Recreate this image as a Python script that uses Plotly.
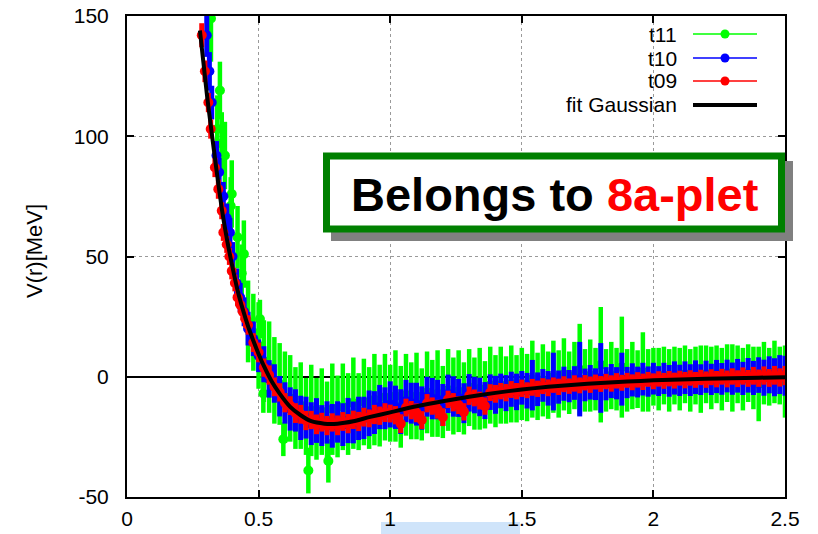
import plotly.graph_objects as go

# ---------------- data ----------------
r_grid = [0.46,0.48,0.50,0.52,0.54,0.56,0.58,0.60,0.62,0.64,
          0.66,0.68,0.70,0.72,0.74,0.76,0.78,0.80,0.82,0.84,
          0.86,0.88,0.90,0.92,0.94,0.96,0.98,1.00,1.02,1.04,
          1.06,1.08,1.10,1.12,1.14,1.16,1.18,1.20,1.22,1.24,
          1.26,1.28,1.30,1.32,1.34,1.36,1.38,1.40,1.42,1.44,
          1.46,1.48,1.50,1.52,1.54,1.56,1.58,1.60,1.62,1.64,
          1.66,1.68,1.70,1.72,1.74,1.76,1.78,1.80,1.82,1.84,
          1.86,1.88,1.90,1.92,1.94,1.96,1.98,2.00,2.02,2.04,
          2.06,2.08,2.10,2.12,2.14,2.16,2.18,2.20,2.22,2.24,
          2.26,2.28,2.30,2.32,2.34,2.36,2.38,2.40,2.42,2.44,
          2.46,2.48,2.50]

# t09 (red)
t09_r_near = [0.284,0.296,0.309,0.318,0.334,0.347,0.360,0.366,0.379,0.389,0.398,0.410,0.420,0.430,0.440,0.450]
t09_v_near = [142,127,114,103,87,78,69,60,55,50,44,39,33,30,27,24]
t09_e_near = [5,4.5,4,4,4,4,3.5,3.5,3.5,3.5,3.5,3.5,3.5,3.5,3.5,3.5]
t09_v = [21.5,14.2,10.1,3.8,0.7,-4.2,-6.5,-10.8,-12.0,-15.1,
         -15.6,-18.2,-18.0,-19.8,-18.9,-20.3,-19.0,-20.2,-18.6,-19.5,
         -17.9,-18.6,-16.8,-17.3,-15.7,-16.2,-14.9,-15.3,-16.0,-19.5,
         -12.8,-13.9,-15.0,-18.0,-11.0,-12.2,-13.5,-16.8,-9.4,-10.6,
         -11.8,-14.6,-7.9,-8.8,-9.9,-12.2,-6.6,-7.1,-6.0,-6.6,
         -5.3,-6.0,-4.8,-5.6,-4.4,-5.0,-3.9,-4.6,-3.5,-4.2,
         -3.1,-3.9,-2.8,-3.6,-2.5,-3.3,-2.2,-3.0,-2.0,-2.8,
         -1.7,-2.5,-1.5,-2.3,-1.3,-2.1,-1.1,-1.9,-0.9,-1.7,
         -0.8,-1.6,-0.6,-1.4,-0.5,-1.3,-0.3,-1.2,-0.2,-1.0,
         0.0,-0.9,0.1,-0.8,0.3,-0.7,0.4,-0.6,0.5,-0.5,
         0.6,-0.3,0.5]
t09_e = [4.0,3.9,4.1,3.8,4.0,3.9,3.8,4.0,3.9,4.1,
         3.9,4.0,3.8,4.1,3.9,4.0,3.8,4.1,3.9,4.0,
         3.8,4.0,3.9,3.7,4.0,3.8,3.9,3.7,3.8,3.9,
         3.7,3.8,3.9,3.7,3.8,3.6,3.9,3.7,3.6,3.8,
         3.7,3.6,3.8,3.5,3.7,3.6,3.5,3.7,3.4,3.6,
         3.5,3.4,3.6,3.3,3.5,3.4,3.3,3.5,3.2,3.4,
         3.3,3.2,3.4,3.3,3.2,3.4,3.1,3.3,3.2,3.4,
         3.2,3.3,3.1,3.3,3.2,3.4,3.1,3.3,3.2,3.3,
         3.2,3.3,3.1,3.4,3.2,3.3,3.2,3.4,3.3,3.4,
         3.3,3.5,3.4,3.5,3.6,3.5,3.7,3.6,3.8,3.7,
         3.9,3.8,4.0]

# t10 (blue)
t10_r_near = [0.303,0.313,0.322,0.340,0.350,0.366,0.379,0.391,0.401,0.416,0.430,0.445]
t10_v_near = [142,127,114,92,85,75,66,60,50,39,33,27]
t10_e_near = [9,8,7,6,6,6,6,6,6,6,6,6]
t10_v = [20.0,15.8,8.7,5.2,-0.9,-2.8,-8.1,-10.9,-13.4,-14.0,
         -17.1,-17.0,-19.5,-18.2,-20.3,-19.0,-20.4,-18.8,-19.9,-18.2,
         -19.0,-17.3,-17.1,-15.2,-14.9,-12.6,-13.1,-11.5,-12.7,-14.5,
         -10.1,-11.0,-11.4,-13.0,-8.3,-9.1,-9.5,-11.7,-7.1,-8.2,
         -8.8,-11.0,-6.7,-7.6,-8.4,-9.9,-6.4,-7.5,-5.9,-6.8,
         -5.2,-6.3,-4.6,-5.8,-3.5,-5.2,-3.6,-4.8,-2.0,-4.3,
         -2.9,-3.9,-2.6,-1.0,-3.4,-2.3,-3.1,-0.5,-2.9,-1.8,
         -2.7,-1.0,-2.4,-1.3,-2.2,-1.0,-2.0,-0.8,-1.8,-0.7,
         -1.7,-0.5,-1.5,-0.4,-1.4,-0.2,-1.2,0.0,-1.1,0.1,
         -0.9,0.3,-0.8,0.4,-0.7,0.6,-0.5,0.7,-0.4,0.8,
         -0.2,0.9,0.4]
t10_e = [7.0,7.2,6.8,7.5,7.8,8.0,8.4,8.6,9.0,8.8,
         9.2,8.7,8.9,9.3,8.5,8.8,9.1,8.6,8.9,9.4,
         8.7,9.0,8.8,9.5,8.9,9.2,8.7,9.6,9.0,9.3,
         8.8,8.5,8.9,9.0,8.3,8.6,8.2,8.7,8.0,8.4,
         7.9,8.3,7.8,7.6,8.0,7.7,7.4,7.9,7.2,7.5,
         7.3,7.6,7.0,7.4,10.5,7.0,6.8,7.2,12.0,6.9,
         7.1,6.7,7.0,15.5,6.8,7.2,6.6,14.5,6.9,7.1,
         6.7,11.0,6.5,6.9,6.4,6.8,6.3,6.6,6.2,6.5,
         6.6,6.9,6.5,6.8,6.6,7.0,6.4,6.7,6.5,6.9,
         6.6,6.8,6.7,7.0,6.9,7.2,7.1,7.4,7.5,7.7,
         7.9,8.1,8.3]

# t11 (green)
t11_r_near = [0.319,0.343,0.353,0.360,0.372,0.394,0.398,0.420,0.436,0.444]
t11_v_near = [149,103,119,97,92,71,76,58,43,51]
t11_e_near = [18,14,12,13,14,12,14,13,12,14]
t11_r_extra = [0.505,0.518,0.594,0.689,0.765]
t11_v_extra = [24,-7,-26,-39,-35]
t11_e_extra = [8,8,7,9.5,9]
t11_v = [23.0,18.5,13.0,6.5,4.0,-1.5,-3.0,-8.5,-9.0,-13.0,
         -12.0,-16.5,-14.0,-17.5,-14.5,-18.0,-13.5,-16.5,-12.5,-15.5,
         -11.0,-14.5,-10.5,-13.0,-9.5,-12.0,-8.5,-11.0,-8.0,-12.5,
         -7.5,-10.0,-8.0,-11.5,-6.5,-9.0,-7.0,-10.5,-5.5,-8.0,
         -6.0,-9.0,-4.5,-7.0,-5.0,-7.5,-3.5,-6.0,-3.5,-5.5,
         -3.0,-5.0,-3.0,-4.5,-1.0,-4.0,-1.5,-3.5,0.0,-3.0,
         1.0,-2.5,0.5,3.0,-1.5,0.5,-1.0,5.0,-1.5,0.5,
         -1.0,4.0,-1.5,0.5,-1.0,2.0,-1.5,0.0,-1.0,0.5,
         -1.5,0.5,-1.0,1.0,-1.5,0.5,-1.0,1.0,-0.5,1.0,
         -1.0,1.5,-0.5,1.0,-1.0,1.5,-0.5,-3.0,1.5,0.0,
         2.0,0.5,-2.0]
t11_e = [17,16,18,17,19,18,17,19,18,17,
         18,16,19,17,18,16,19,17,18,17,
         19,16,18,17,19,17,18,16,19,17,
         17,16,18,15,17,16,18,15,17,16,
         17,15,16,15,17,14,16,15,16,14,
         16,14,15,14,16,14,15,14,15,14,
         15,13,14,19,13,15,13,24,13,14,
         13,21,13,14,12,16.5,13,12,13,12,
         13,12,13,12,13,12,14,12,13,12,
         13,12,14,12,13,12,13,15.5,13,12,
         13,12,15]

# fit Gaussian (black)
fit_r = [0.277,0.29,0.305,0.32,0.34,0.36,0.38,0.40,0.42,0.44,0.46,0.48,0.50,0.52,0.55,0.58,
         0.62,0.66,0.70,0.75,0.80,0.86,0.92,1.00,1.10,1.20,1.30,1.40,1.50,1.60,1.70,1.80,
         1.90,2.00,2.20,2.40,2.50]
fit_v = [144,131,116,103,86,70,57,46,36,28,21,15,9.5,4.5,-2,-7,
         -12.5,-16,-18.5,-19.5,-19.5,-18.5,-16.8,-14.8,-12.3,-10.2,-8.3,-6.7,-5.3,-4.2,-3.3,-2.6,
         -2.0,-1.5,-0.8,-0.4,-0.2]

x_ticks = [0, 0.5, 1, 1.5, 2, 2.5]
x_ticktext = ["0", "0.5", "1", "1.5", "2", "2.5"]
y_ticks = [-50, 0, 50, 100, 150]
y_ticktext = ["-50", "0", "50", "100", "150"]

series_names = ["t11", "t10", "t09"]
series_colors = ["#00ff00", "#0000ff", "#ff0000"]

for lst in (t09_v, t09_e, t10_v, t10_e, t11_v, t11_e):
    assert len(lst) == len(r_grid), len(lst)

# ---------------- figure ----------------
FONT = "Liberation Sans, Arial, Helvetica, sans-serif"
W, H = 818, 534
L, R, T, B = 127, 33, 16, 37
PW, PH = W - L - R, H - T - B


def px(x):
    return (x - L) / PW


def py(y):
    return (H - B - y) / PH


fig = go.Figure()

series = [
    (t11_r_near + r_grid + t11_r_extra, t11_v_near + t11_v + t11_v_extra, t11_e_near + t11_e + t11_e_extra, 4.5),
    (t10_r_near + r_grid, t10_v_near + t10_v, t10_e_near + t10_e, 5),
    (t09_r_near + r_grid, t09_v_near + t09_v, t09_e_near + t09_e, 5),
]
for (xs, ys, es, th), name, col in zip(series, series_names, series_colors):
    fig.add_trace(go.Scatter(
        x=xs, y=ys, mode="markers", name=name, showlegend=False,
        marker=dict(color=col, size=10, line=dict(width=0)),
        error_y=dict(type="data", array=es, visible=True, color=col, thickness=th, width=0),
    ))

fig.add_trace(go.Scatter(
    x=fit_r, y=fit_v, mode="lines", name="fit Gaussian", showlegend=False,
    line=dict(color="black", width=4, shape="spline", smoothing=0.6),
))

axis_common = dict(
    showline=True, linecolor="black", linewidth=2, mirror="ticks",
    ticks="inside", ticklen=7, tickwidth=1.5, tickcolor="black",
    showgrid=True, gridcolor="#9a9a9a", gridwidth=1, griddash="dot",
    tickfont=dict(family=FONT, size=21, color="black"),
    automargin=False,
)

fig.update_layout(
    width=W, height=H, autosize=False,
    margin=dict(l=L, r=R, t=T, b=B, autoexpand=False),
    paper_bgcolor="white", plot_bgcolor="white",
    showlegend=False,
    xaxis=dict(range=[0, 2.5], tickvals=x_ticks, ticktext=x_ticktext, zeroline=False,
               ticklabelstandoff=2, **axis_common),
    yaxis=dict(range=[-50, 150], tickvals=y_ticks, ticktext=y_ticktext,
               zeroline=True, zerolinecolor="black", zerolinewidth=2,
               ticklabelstandoff=12, **axis_common),
)

shapes = []
annotations = []

# light blue strip under the x labels
shapes.append(dict(type="rect", xref="paper", yref="paper", layer="below",
                   x0=px(381), x1=px(520), y0=py(534), y1=py(522),
                   fillcolor="#cfe4fa", line=dict(width=0)))

# y-axis title
annotations.append(dict(text="V(r)[MeV]", xref="paper", yref="paper", x=px(34), y=py(251),
                        textangle=-90, showarrow=False, xanchor="center", yanchor="middle",
                        font=dict(family=FONT, size=22, color="black")))

# manual legend (gnuplot style: text then sample)
rows = [34, 58, 81, 105]
legend_items = [("t11", "#00ff00", True), ("t10", "#0000ff", True), ("t09", "#ff0000", True),
                ("fit Gaussian", "black", False)]
for yrow, (label, col, dot) in zip(rows, legend_items):
    annotations.append(dict(text=label, xref="paper", yref="paper", x=px(679), y=py(yrow),
                            xanchor="right", yanchor="middle", showarrow=False,
                            font=dict(family=FONT, size=21, color="black")))
    shapes.append(dict(type="line", xref="paper", yref="paper",
                       x0=px(693), x1=px(757), y0=py(yrow), y1=py(yrow),
                       line=dict(color=col, width=1.5 if dot else 4)))
    if dot:
        shapes.append(dict(type="circle", xref="paper", yref="paper",
                           x0=px(725 - 4.5), x1=px(725 + 4.5), y0=py(yrow + 4.5), y1=py(yrow - 4.5),
                           fillcolor=col, line=dict(width=0)))

# labelled box with shadow
shapes.append(dict(type="rect", xref="paper", yref="paper",
                   x0=px(331), x1=px(793), y0=py(241), y1=py(161),
                   fillcolor="#808080", line=dict(width=0)))
shapes.append(dict(type="rect", xref="paper", yref="paper",
                   x0=px(326.5), x1=px(781.5), y0=py(229), y1=py(156),
                   fillcolor="white", line=dict(color="#008000", width=7)))
annotations.append(dict(text="<b>Belongs to <span style='color:#ff0000'>8a-plet</span></b>",
                        xref="paper", yref="paper", x=px(555), y=py(195),
                        xanchor="center", yanchor="middle", showarrow=False,
                        font=dict(family=FONT, size=47, color="black")))

fig.update_layout(shapes=shapes, annotations=annotations)

fig.write_html("out.html",
               config={"displayModeBar": False},
               post_script="document.body.style.margin='0px';document.body.style.overflow='hidden';")
